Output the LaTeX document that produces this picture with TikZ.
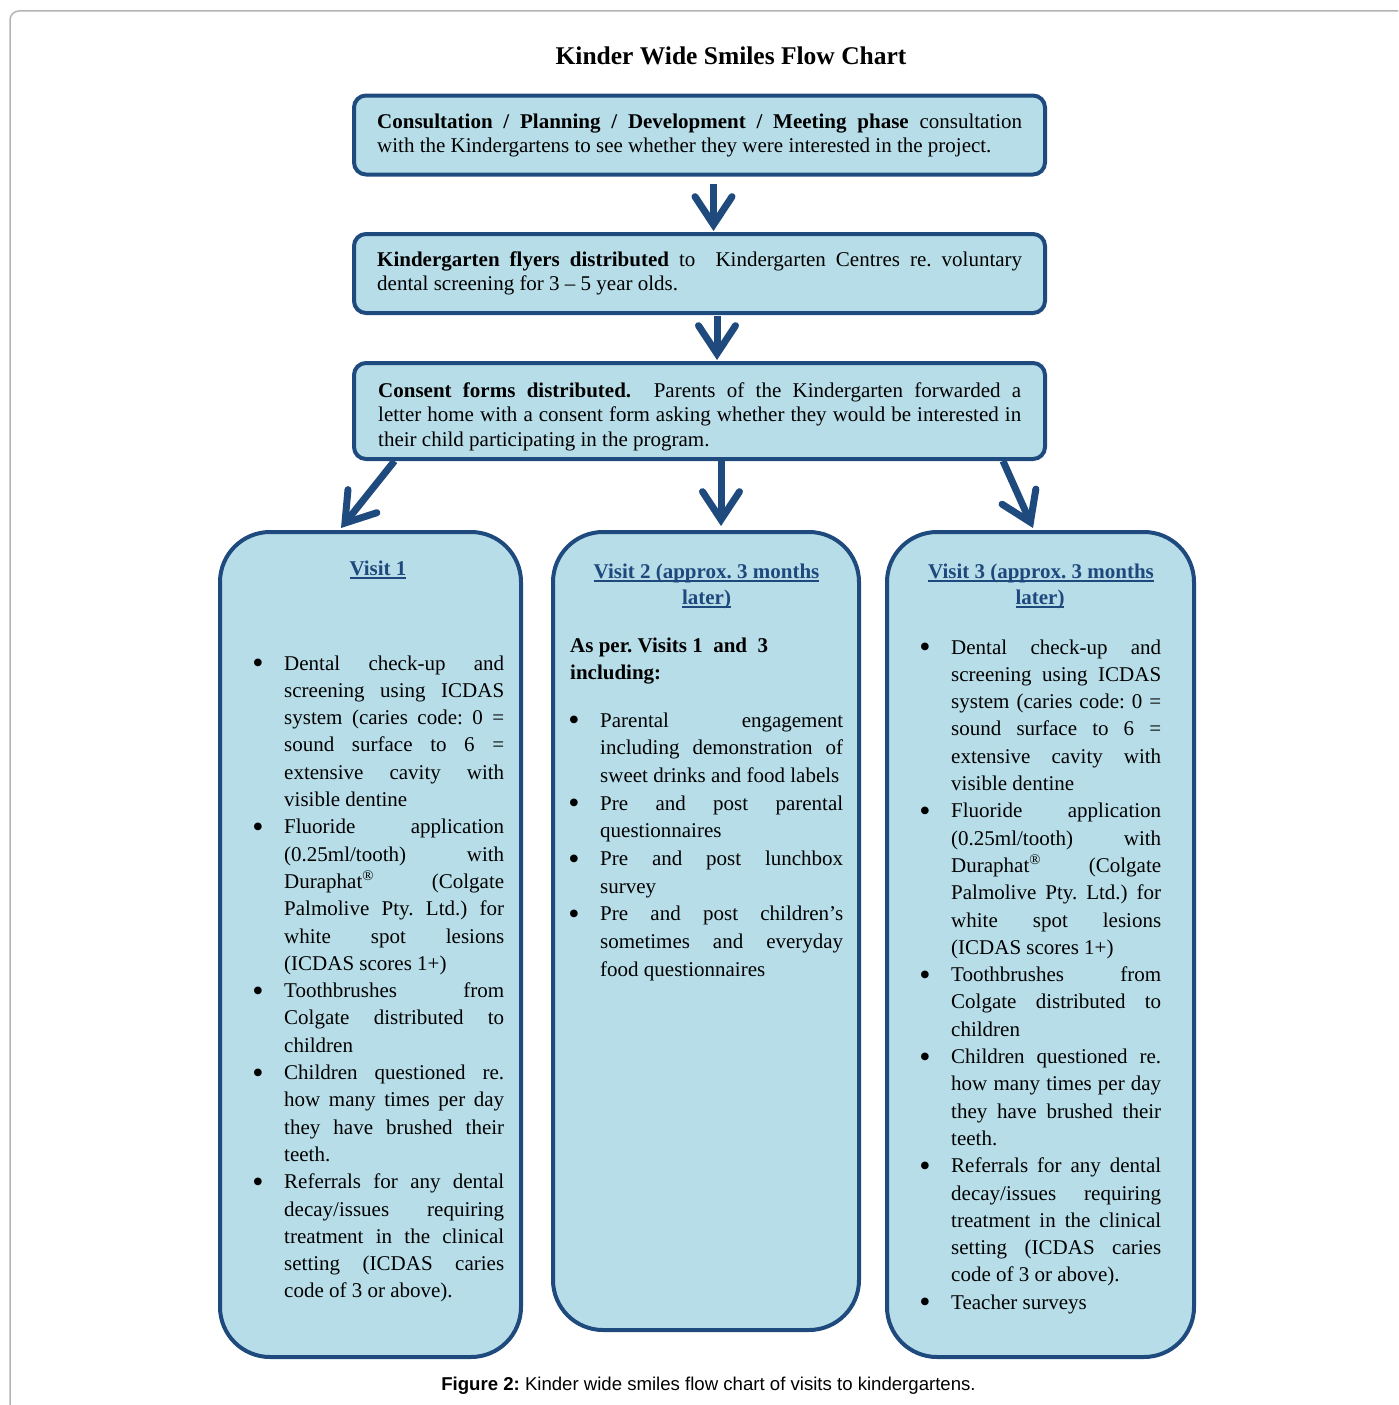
\documentclass[tikz,border=0pt]{standalone}
\usepackage{fontspec}
\setmainfont{Liberation Serif}
\setsansfont{Liberation Sans}
\usetikzlibrary{arrows.meta}
\definecolor{dblue}{HTML}{1F4A7E}
\definecolor{lblue}{HTML}{B7DDE8}
\definecolor{hblue}{HTML}{1F497D}
\definecolor{frame}{HTML}{B4B4B4}
\frenchspacing
\newcommand\jline[1]{\makebox[\linewidth][s]{#1}\par}
\newcommand\lline[1]{#1\par}
\newcommand\bul{\noindent\llap{\raisebox{-3.5pt}{\fontsize{32pt}{32pt}\selectfont\textbullet}\hskip 20.7pt}}
\newcommand\ulx[1]{\setbox0\hbox{#1}\rlap{\rule[-3.6pt]{\wd0}{1.3pt}}\box0}
\tikzset{
  flowbox/.style={draw=dblue, fill=lblue, line width=4pt, rounded corners=12pt, inner sep=0pt},
  visitbox/.style={draw=dblue, fill=lblue, line width=4pt, rounded corners=50pt, inner sep=0pt},
  txt/.style={inner sep=0pt, anchor=base west, font=\fontsize{21pt}{24.5pt}\selectfont},
  vtxt/.style={inner sep=0pt, anchor=base west, font=\fontsize{21pt}{27.3pt}\selectfont},
  head/.style={inner sep=0pt, anchor=base, text=hblue, font=\fontsize{21pt}{26pt}\selectfont\bfseries},
  arr/.style={draw=dblue, line width=7pt, -{Straight Barb[length=28pt, width=37pt, line cap=round, line join=miter]}}
}
\begin{document}
\begin{tikzpicture}[x=1pt, y=-1pt]
\useasboundingbox (0,0) rectangle (1398,1405);
% outer frame
\draw[frame, line width=1.5pt, rounded corners=9pt] (10,1405) -- (10,11) -- (1398,11);
% title
\node[inner sep=0pt, anchor=base, font=\fontsize{25.5pt}{30pt}\selectfont\bfseries] (title) at (731,64) {Kinder Wide Smiles Flow Chart};
% boxes
\node[flowbox, minimum width=691pt, minimum height=79pt] (b1) at (699.5,135) {};
\node[flowbox, minimum width=691pt, minimum height=79pt] (b2) at (699.5,273.5) {};
\node[flowbox, minimum width=691pt, minimum height=96pt] (b3) at (699.5,411) {};
\node[visitbox, minimum width=301pt, minimum height=825pt] (v1) at (370.5,944.5) {};
\node[visitbox, minimum width=306pt, minimum height=798pt] (v2) at (706,931) {};
\node[visitbox, minimum width=307pt, minimum height=825pt] (v3) at (1040.5,944.5) {};
% box texts
\node[txt] (t1) at (377,128) {\parbox[t]{645pt}{%
\jline{\textbf{Consultation / Planning / Development / Meeting phase} consultation}
\lline{with the Kindergartens to see whether they were interested in the project.}}};
\node[txt] (t2) at (377,266) {\parbox[t]{645pt}{%
\jline{\textbf{Kindergarten flyers distributed} to\ \ Kindergarten Centres re. voluntary}
\lline{dental screening for 3 – 5 year olds.}}};
\node[txt] (t3) at (378,397) {\parbox[t]{643pt}{%
\jline{\textbf{Consent forms distributed.}\ \ Parents of the Kindergarten forwarded a}
\jline{letter home with a consent form asking whether they would be interested in}
\lline{their child participating in the program.}}};
% visit headers
\node[head] (h1) at (378,575) {\ulx{Visit 1}};
\node[head] (h2a) at (706.5,578) {\ulx{Visit 2 (approx. 3 months}};
\node[head] (h2b) at (706.5,604) {\ulx{later)}};
\node[head] (h3a) at (1041,578) {\ulx{Visit 3 (approx. 3 months}};
\node[head] (h3b) at (1040,604) {\ulx{later)}};
% visit 1 list
\node[vtxt] (l1) at (284,670) {\parbox[t]{220pt}{%
\bul\jline{Dental check-up and}
\jline{screening using ICDAS}
\jline{system (caries code: 0 =}
\jline{sound surface to 6 =}
\jline{extensive cavity with}
\lline{visible dentine}
\bul\jline{Fluoride application}
\jline{(0.25ml/tooth) with}
\jline{Duraphat\textsuperscript{\textregistered} (Colgate}
\jline{Palmolive Pty. Ltd.) for}
\jline{white spot lesions}
\lline{(ICDAS scores 1+)}
\bul\jline{Toothbrushes from}
\jline{Colgate distributed to}
\lline{children}
\bul\jline{Children questioned re.}
\jline{how many times per day}
\jline{they have brushed their}
\lline{teeth.}
\bul\jline{Referrals for any dental}
\jline{decay/issues requiring}
\jline{treatment in the clinical}
\jline{setting (ICDAS caries}
\lline{code of 3 or above).}}};
% visit 2 text
\node[vtxt, font=\fontsize{21pt}{27pt}\selectfont\bfseries] (a2) at (570,652) {\parbox[t]{260pt}{%
\lline{As per. Visits 1\ \ and\ \ 3}
\lline{including:}}};
\node[vtxt, font=\fontsize{21pt}{27.7pt}\selectfont] (l2) at (600,727) {\parbox[t]{243pt}{%
\bul\jline{Parental engagement}
\jline{including demonstration of}
\lline{sweet drinks and food labels}
\bul\jline{Pre and post parental}
\lline{questionnaires}
\bul\jline{Pre and post lunchbox}
\lline{survey}
\bul\jline{Pre and post children’s}
\jline{sometimes and everyday}
\lline{food questionnaires}}};
% visit 3 list
\node[vtxt] (l3) at (951,654) {\parbox[t]{210pt}{%
\bul\jline{Dental check-up and}
\jline{screening using ICDAS}
\jline{system (caries code: 0 =}
\jline{sound surface to 6 =}
\jline{extensive cavity with}
\lline{visible dentine}
\bul\jline{Fluoride application}
\jline{(0.25ml/tooth) with}
\jline{Duraphat\textsuperscript{\textregistered} (Colgate}
\jline{Palmolive Pty. Ltd.) for}
\jline{white spot lesions}
\lline{(ICDAS scores 1+)}
\bul\jline{Toothbrushes from}
\jline{Colgate distributed to}
\lline{children}
\bul\jline{Children questioned re.}
\jline{how many times per day}
\jline{they have brushed their}
\lline{teeth.}
\bul\jline{Referrals for any dental}
\jline{decay/issues requiring}
\jline{treatment in the clinical}
\jline{setting (ICDAS caries}
\lline{code of 3 or above).}
\bul\lline{Teacher surveys}}};
% arrows
\draw[arr] ([xshift=14pt,yshift=-7pt]b1.south) -- ([xshift=14pt,yshift=1pt]b2.north);
\draw[arr] ([xshift=17.5pt,yshift=-1pt]b2.south) -- ([xshift=17.5pt,yshift=1pt]b3.north);
\draw[arr] ([xshift=-305pt]b3.south) -- ([xshift=-29.5pt,yshift=2pt]v1.north);
\draw[arr] ([xshift=21.5pt]b3.south) -- ([xshift=15pt,yshift=4pt]v2.north);
\draw[arr] ([xshift=303.5pt]b3.south) -- ([xshift=-7.5pt,yshift=2pt]v3.north);
% caption
\node[inner sep=0pt, anchor=base, font=\sffamily\fontsize{18.6pt}{22pt}\selectfont] (cap) at (708.5,1390) {\textbf{Figure 2:} Kinder wide smiles flow chart of visits to kindergartens.};
\end{tikzpicture}
\end{document}
